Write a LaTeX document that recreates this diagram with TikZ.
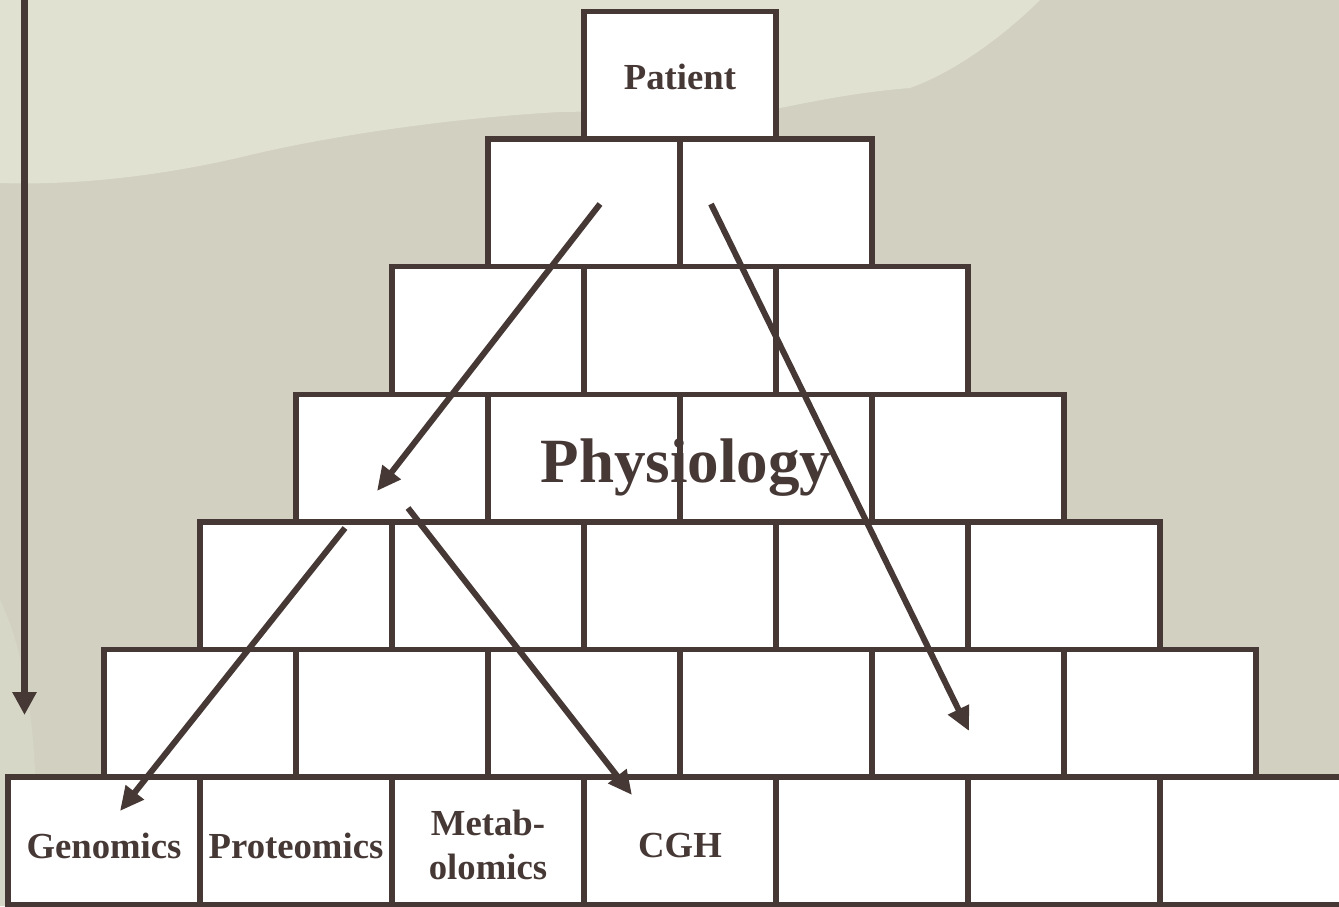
\documentclass[tikz,border=0pt]{standalone}
\usepackage{fontspec}
\setmainfont{Liberation Serif}
\usetikzlibrary{arrows.meta}
\definecolor{ink}{RGB}{70,56,53}
\definecolor{bgbase}{RGB}{210,209,193}
\definecolor{bglight}{RGB}{225,225,209}
\definecolor{bgmid}{RGB}{215,215,199}
\begin{document}
\begin{tikzpicture}[x=1pt,y=-1pt,
  brick/.style={draw=ink, line width=5.5pt, fill=white, minimum width=192pt,
    minimum height=127.6pt, inner sep=0pt, outer sep=0pt},
  lbl/.style={text=ink, font=\fontsize{36.7}{44}\selectfont\bfseries, inner sep=0pt},
  biglbl/.style={text=ink, font=\fontsize{63}{70}\selectfont\bfseries, inner sep=0pt, anchor=base},
  arr/.style={draw=ink, line width=6pt, -{Triangle[length=24pt,width=22pt]}},
  varr/.style={draw=ink, line width=7.5pt, -{Triangle[length=23pt,width=23pt]}}
]
\useasboundingbox (0,0) rectangle (1339,906);
\clip (0,0) rectangle (1339,906);
% background
\fill[bgbase] (0,0) rectangle (1339,906);
\fill[bglight] (0,0) -- (0,183) .. controls (90,186) and (180,172) .. (250,155)
  .. controls (330,136) and (450,118) .. (560,112) -- (680,110) -- (780,108)
  .. controls (820,100) and (860,92) .. (910,88)
  .. controls (960,70) and (1010,30) .. (1040,0) -- cycle;
\fill[bgmid] (0,600) .. controls (30,660) and (45,780) .. (30,906) -- (0,906) -- cycle;
% bricks
\foreach \r in {0,...,6} {
  \foreach \c in {0,...,\r} {
    \node[brick] (b\r-\c) at ({680-96*\r+192*\c},{75.3+127.6*\r}) {};
  }
}
% arrow end points
\coordinate (vs) at (24.5,-10);
\coordinate (ve) at (24.5,715);
\coordinate (a1s) at (600,204);
\coordinate (a1e) at (377,491);
\coordinate (a2s) at (345,528);
\coordinate (a2e) at (120,811);
\coordinate (a3s) at (408,508);
\coordinate (a3e) at (632,795);
\coordinate (a4s) at (711,204);
\coordinate (a4e) at (969,731);
% labels
\node[lbl, anchor=base] (tpat) at (680,89) {Patient};
\node[biglbl] (tphys) at (686,482) {Physiology};
\node[lbl, anchor=base] (tgen) at (104,858) {Genomics};
\node[lbl, anchor=base] (tprot) at (296,858) {Proteomics};
\node[lbl, align=center, anchor=center] (tmet) at (488,844.5) {Metab-\\olomics};
\node[lbl, anchor=base] (tcgh) at (680,857) {CGH};
% arrows
\draw[varr] (vs) -- (ve);
\draw[arr] (a1s) -- (a1e);
\draw[arr] (a2s) -- (a2e);
\draw[arr] (a3s) -- (a3e);
\draw[arr] (a4s) -- (a4e);
\end{tikzpicture}
\end{document}
